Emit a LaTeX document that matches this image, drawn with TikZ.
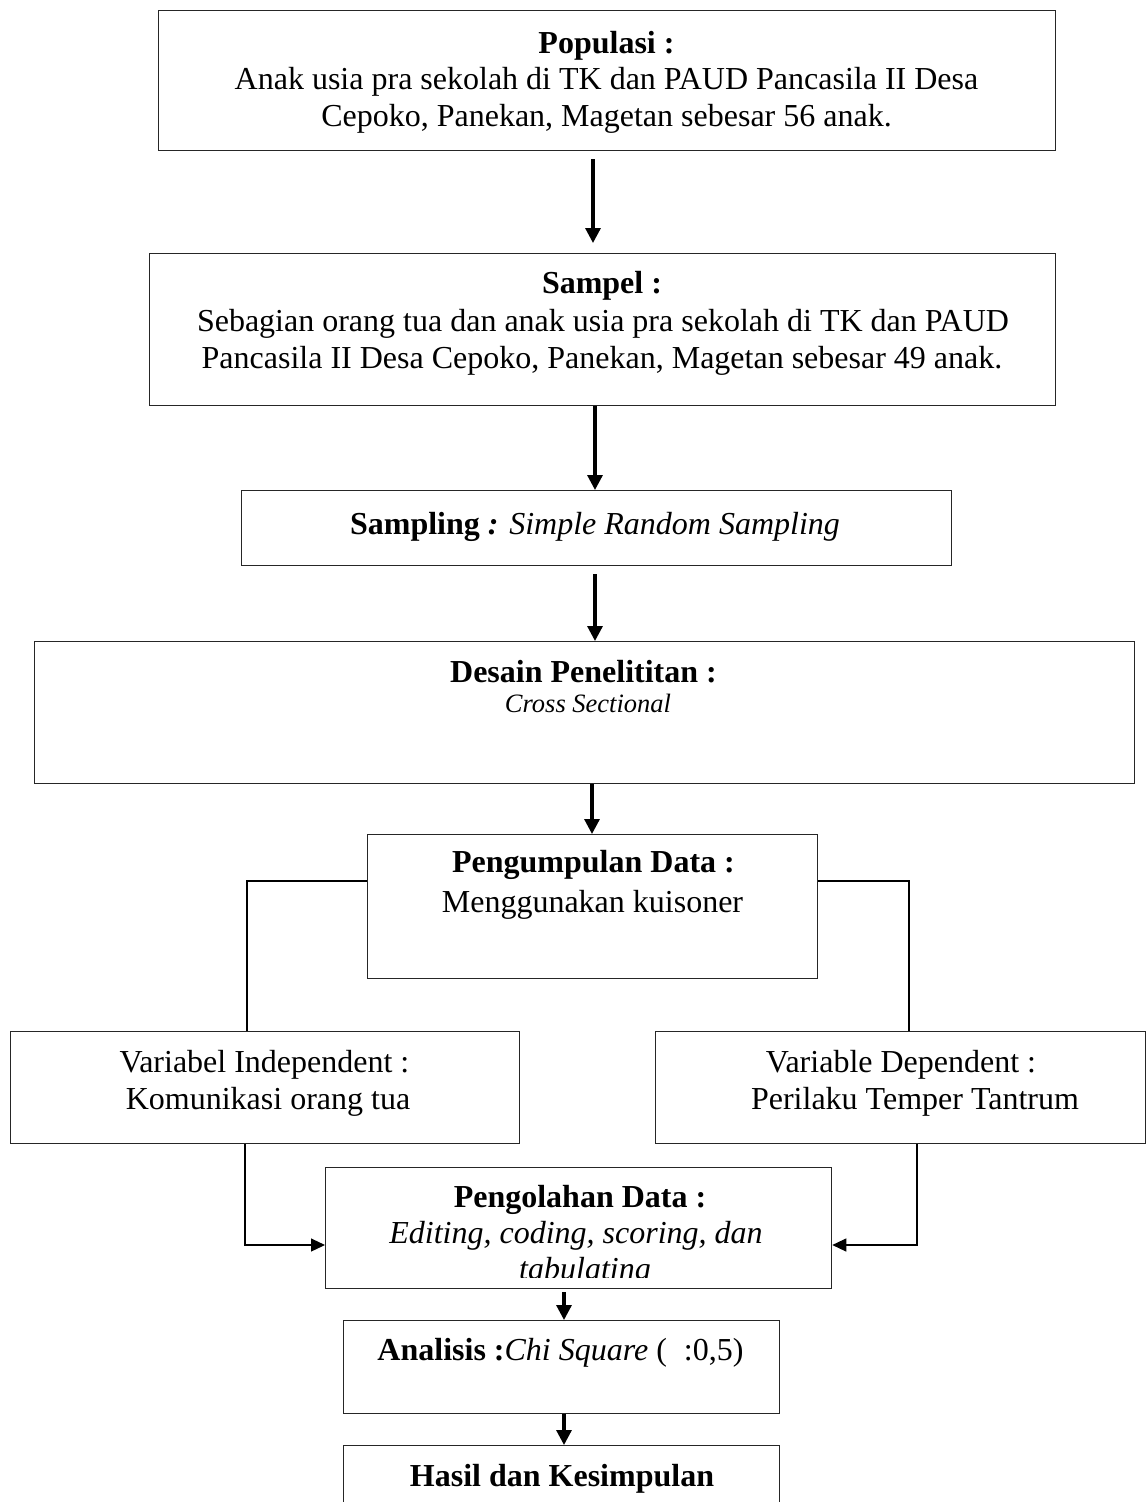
\documentclass[tikz,border=0pt]{standalone}
\usepackage{fontspec}
\setmainfont{Liberation Serif}
\usetikzlibrary{arrows.meta,calc}
\begin{document}
\begin{tikzpicture}[x=1pt,y=-1pt,
  box/.style={draw=black!85, line width=1.3pt, inner sep=0pt, anchor=north west},
  txt/.style={anchor=base, inner sep=0pt, font=\fontsize{32}{38}\selectfont},
  small/.style={anchor=base, inner sep=0pt, font=\fontsize{26.5}{31}\selectfont},
  mainarr/.style={line width=3.2pt, -{Triangle[length=15pt,width=15pt]}},
  side/.style={line width=1.2pt},
  sidearr/.style={line width=1.2pt, -{Triangle[length=14pt,width=13pt]}}]
\clip (0,0) rectangle (1146,1502);
\fill[white] (0,0) rectangle (1146,1502);

% columns for connectors
\coordinate (xa) at (593,0);
\coordinate (xb) at (595,0);
\coordinate (xc) at (592,0);
\coordinate (xd) at (564,0);
\coordinate (xl1) at (247,0);
\coordinate (xl2) at (245,0);
\coordinate (xr1) at (909,0);
\coordinate (xr2) at (917,0);
\coordinate (yj) at (0,881);
\coordinate (yk) at (0,1245);

% boxes
\node[box, minimum width=897pt, minimum height=140pt] (pop) at (158,10) {};
\node[box, minimum width=906pt, minimum height=152pt] (samp) at (149,253) {};
\node[box, minimum width=710pt, minimum height=75pt] (smpl) at (241,490) {};
\node[box, minimum width=1100pt, minimum height=142pt] (des) at (34,641) {};
\node[box, minimum width=450pt, minimum height=144pt] (pengum) at (367,834) {};
\node[box, minimum width=509pt, minimum height=112pt] (vi) at (10,1031) {};
\node[box, minimum width=490pt, minimum height=112pt] (vd) at (655,1031) {};
\node[box, minimum width=506pt, minimum height=121pt] (peng) at (325,1167) {};
\node[box, minimum width=436pt, minimum height=93pt] (ana) at (343,1320) {};
\node[box, minimum width=436pt, minimum height=90pt] (has) at (343,1445) {};

% texts
\node[txt] (popT1) at (606.5,53) {\textbf{Populasi :}};
\node[txt] (popT2) at (606.5,89) {Anak usia pra sekolah di TK dan PAUD Pancasila II Desa};
\node[txt] (popT3) at (606.5,126) {Cepoko, Panekan, Magetan sebesar 56 anak.};

\node[txt] (sampT1) at (602,293) {\textbf{Sampel :}};
\node[txt] (sampT2) at (603,331) {Sebagian orang tua dan anak usia pra sekolah di TK dan PAUD};
\node[txt] (sampT3) at (602,368) {Pancasila II Desa Cepoko, Panekan, Magetan sebesar 49 anak.};

\node[txt] (smplT) at (595,534) {\textbf{Sampling}\textbf{\textit{ :}} \textit{Simple Random Sampling}};

\node[txt] (desT1) at (583.5,682) {\textbf{Desain Penelititan :}};
\node[small] (desT2) at (588,712) {\textit{Cross Sectional}};

\node[txt] (pengumT1) at (593.5,872) {\textbf{Pengumpulan Data :}};
\node[txt] (pengumT2) at (592.5,912) {Menggunakan kuisoner};

\node[txt] (viT1) at (264.5,1072) {Variabel Independent :};
\node[txt] (viT2) at (268,1109) {Komunikasi orang tua};

\node[txt] (vdT1) at (901,1072) {Variable Dependent :};
\node[txt] (vdT2) at (915,1109) {Perilaku Temper Tantrum};

\node[txt] (pengT1) at (580,1207) {\textbf{Pengolahan Data :}};
\node[txt] (pengT2) at (576,1243) {\textit{Editing, coding, scoring, dan}};
\begin{scope}
\clip (325,1167) rectangle (831,1277);
\node[txt] (pengT3) at (585,1279) {\textit{tabulating}};
\end{scope}

\node[txt] (anaT) at (560.5,1360) {\textbf{Analisis :}\textit{Chi Square} (\hspace{17pt}:0,5)};
\node[txt] (hasT) at (562,1486) {\textbf{Hasil dan Kesimpulan}};

% main arrows
\draw[mainarr] ($(pop.south -| xa)+(0,8)$) -- ($(samp.north -| xa)+(0,-10)$);
\draw[mainarr] (samp.south -| xb) -- (smpl.north -| xb);
\draw[mainarr] ($(smpl.south -| xb)+(0,8)$) -- (des.north -| xb);
\draw[mainarr] (des.south -| xc) -- (pengum.north -| xc);
\draw[mainarr] ($(peng.south -| xd)+(0,3)$) -- (ana.north -| xd);
\draw[mainarr] (ana.south -| xd) -- (has.north -| xd);

% side connectors
\draw[side] (pengum.west |- yj) -- (xl1 |- yj) -- (vi.north -| xl1);
\draw[side] (pengum.east |- yj) -- (xr1 |- yj) -- (vd.north -| xr1);
\draw[sidearr] (vi.south -| xl2) -- (xl2 |- yk) -- (peng.west |- yk);
\draw[sidearr] (vd.south -| xr2) -- (xr2 |- yk) -- (peng.east |- yk);
\end{tikzpicture}
\end{document}
